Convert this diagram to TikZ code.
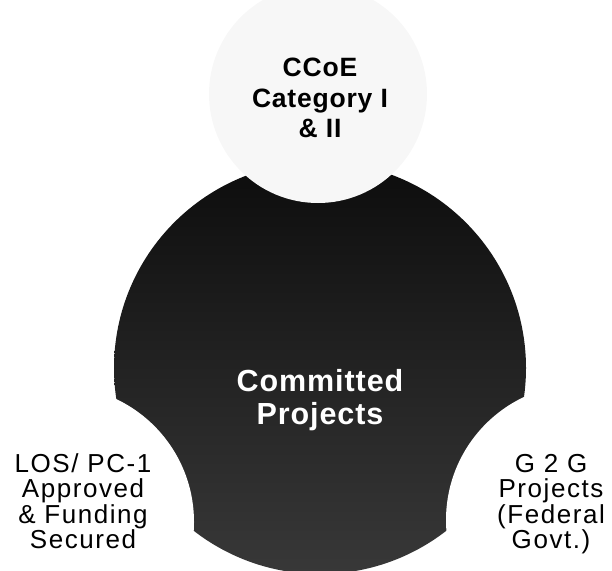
\documentclass[tikz,border=0pt]{standalone}
\usepackage{fontspec}
\setmainfont[LetterSpace=3]{Liberation Sans}
\newfontfamily\sidefont[LetterSpace=6]{Liberation Sans}
\usetikzlibrary{positioning}
\tikzset{
  blob/.style = {circle, inner sep=0pt, draw=none},
  blob_core/.style = {blob, minimum size=412pt, top color=black!95,
    middle color=black!92, bottom color=black!78},% le gros disque sombre
  blob_top/.style = {blob, minimum size=218pt, fill=black!3},
  blob_cut/.style = {blob, minimum size=272pt, fill=white},% disques qui mordent
  lbl/.style = {align=center, inner sep=0pt, anchor=north},
  lbl_top/.style = {lbl, font=\fontsize{26.5}{30.5}\selectfont\bfseries},
  lbl_core/.style = {lbl, text=white,
    font=\fontsize{30.5}{33}\selectfont\bfseries},
  lbl_side/.style = {lbl, font=\sidefont\fontsize{26}{25.5}\selectfont}
}

\begin{document}
\begin{tikzpicture}[x=1pt, y=-1pt]
\useasboundingbox (0,0) rectangle (612,570);
\clip (0,0) rectangle (612,570);
\node [blob_core] (core) at (320,368) {};
\node [blob_cut] (cutl) at (58,522) {};
\node [blob_cut] (cutr) at (582,520) {};
\node [blob_top] (ccoe) at (318,94) {};
\node [lbl_top] (ccoe_t) at (320,58) {CCoE\\Category I\\\& II};
\node [lbl_core] (core_t) at (320,369) {Committed\\Projects};
\node [lbl_side] (los_t) at (83,453) {LOS/ PC-1\\Approved\\\& Funding\\Secured};
\node [lbl_side] (g2g_t) at (551,454) {G 2 G\\Projects\\(Federal\\Govt.)};
\end{tikzpicture}
\end{document}
